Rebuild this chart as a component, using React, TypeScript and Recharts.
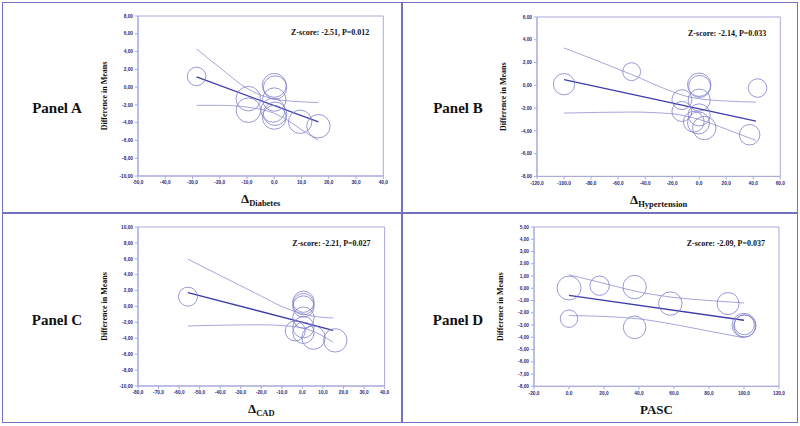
import { ComposedChart, XAxis, YAxis, ZAxis, Scatter, Line, ReferenceArea } from 'recharts';

// ---- Panel A : Delta Diabetes ----
const xTicksA = [-50, -40, -30, -20, -10, 0, 10, 20, 30, 40];
const yTicksA = [8, 6, 4, 2, 0, -2, -4, -6, -8, -10];
const pointsA = [
  { x: -28.5, y: 1.2, w: 44 },
  { x: -9.5, y: -1.3, w: 77 },
  { x: -9.5, y: -2.6, w: 77 },
  { x: 0, y: 0.2, w: 73 },
  { x: 0.3, y: -0.05, w: 70 },
  { x: 0, y: -1.4, w: 70 },
  { x: -0.5, y: -2.6, w: 73 },
  { x: 0.3, y: -3.0, w: 70 },
  { x: 0, y: -3.4, w: 73 },
  { x: 9.5, y: -3.9, w: 70 },
  { x: 16.2, y: -4.4, w: 70 },
];
const fitA = [{ x: -28.5, y: 1.14 }, { x: 16.2, y: -3.92 }];
const upperA = [
  { x: -28.5, y: 4.3 }, { x: -20, y: 2.2 }, { x: -10, y: -0.15 }, { x: -5, y: -0.9 },
  { x: 0, y: -1.35 }, { x: 5, y: -1.55 }, { x: 10, y: -1.65 }, { x: 16.2, y: -1.75 },
];
const lowerA = [
  { x: -28.5, y: -2.05 }, { x: -20, y: -2.05 }, { x: -10, y: -2.25 }, { x: -5, y: -2.5 },
  { x: 0, y: -2.95 }, { x: 5, y: -3.75 }, { x: 10, y: -4.8 }, { x: 16.2, y: -6.0 },
];

// ---- Panel B : Delta Hypertension ----
const xTicksB = [-120, -100, -80, -60, -40, -20, 0, 20, 40, 60];
const yTicksB = [6, 4, 2, 0, -2, -4, -6, -8];
const pointsB = [
  { x: -100, y: 0.1, w: 58 },
  { x: -50, y: 1.2, w: 41 },
  { x: -12.8, y: -1.26, w: 51 },
  { x: -12.8, y: -2.3, w: 51 },
  { x: 0, y: 0.05, w: 70 },
  { x: 0.3, y: -0.1, w: 62 },
  { x: 0, y: -1.3, w: 62 },
  { x: 0, y: -2.6, w: 62 },
  { x: -4, y: -3.2, w: 55 },
  { x: -0.5, y: -3.3, w: 62 },
  { x: 3.8, y: -3.75, w: 70 },
  { x: 37.3, y: -4.34, w: 54 },
  { x: 43.2, y: -0.24, w: 44 },
];
const fitB = [{ x: -100, y: 0.5 }, { x: 42, y: -3.15 }];
const upperB = [
  { x: -100, y: 3.28 }, { x: -50, y: 0.95 }, { x: -20, y: -0.55 }, { x: -10, y: -0.95 },
  { x: 0, y: -1.18 }, { x: 20, y: -1.38 }, { x: 42, y: -1.48 },
];
const lowerB = [
  { x: -100, y: -2.44 }, { x: -50, y: -2.35 }, { x: -20, y: -2.5 }, { x: -10, y: -2.7 },
  { x: 0, y: -3.0 }, { x: 20, y: -3.85 }, { x: 42, y: -4.85 },
];

// ---- Panel C : Delta CAD ----
const xTicksC = [-80, -70, -60, -50, -40, -30, -20, -10, 0, 10, 20, 30, 40];
const yTicksC = [10, 8, 6, 4, 2, 0, -2, -4, -6, -8, -10];
const pointsC = [
  { x: -55.7, y: 1.24, w: 46 },
  { x: 0.5, y: 0.6, w: 58 },
  { x: 0.5, y: 0.3, w: 58 },
  { x: 0.5, y: 0.0, w: 58 },
  { x: 0.5, y: -1.4, w: 58 },
  { x: 0.5, y: -2.6, w: 58 },
  { x: 0.5, y: -3.3, w: 58 },
  { x: -3.5, y: -3.08, w: 51 },
  { x: 5.4, y: -3.92, w: 70 },
  { x: 16, y: -4.26, w: 70 },
];
const fitC = [{ x: -55.7, y: 1.75 }, { x: 15, y: -3.0 }];
const upperC = [
  { x: -55.7, y: 5.95 }, { x: -40, y: 3.9 }, { x: -20, y: 1.3 }, { x: -10, y: 0.0 },
  { x: 0, y: -0.9 }, { x: 5, y: -1.2 }, { x: 15, y: -1.45 },
];
const lowerC = [
  { x: -55.7, y: -2.45 }, { x: -40, y: -2.35 }, { x: -20, y: -2.3 }, { x: -10, y: -2.4 },
  { x: 0, y: -2.7 }, { x: 5, y: -3.1 }, { x: 15, y: -4.5 },
];

// ---- Panel D : PASC ----
const xTicksD = [-20, 0, 20, 40, 60, 80, 100, 120];
const yTicksD = [5, 4, 3, 2, 1, 0, -1, -2, -3, -4, -5, -6, -7, -8];
const pointsD = [
  { x: 0, y: 0.02, w: 73 },
  { x: 17.5, y: 0.21, w: 48 },
  { x: 37.5, y: 0.1, w: 70 },
  { x: 57.9, y: -1.25, w: 70 },
  { x: 90.9, y: -1.25, w: 62 },
  { x: 0, y: -2.48, w: 39 },
  { x: 37.5, y: -3.19, w: 65 },
  { x: 100, y: -3.02, w: 73 },
  { x: 100.4, y: -3.08, w: 62 },
  { x: 100.2, y: -2.98, w: 51 },
];
const fitD = [{ x: 0, y: -0.58 }, { x: 100, y: -2.61 }];
const upperD = [
  { x: 0, y: 1.1 }, { x: 20, y: 0.4 }, { x: 40, y: -0.3 }, { x: 60, y: -0.75 },
  { x: 80, y: -1.0 }, { x: 100, y: -1.2 },
];
const lowerD = [
  { x: 0, y: -2.23 }, { x: 20, y: -2.3 }, { x: 40, y: -2.5 }, { x: 60, y: -2.95 },
  { x: 80, y: -3.5 }, { x: 100, y: -4.04 },
];

const zScores = ['Z-score: -2.51, P=0.012', 'Z-score: -2.14, P=0.033', 'Z-score: -2.21, P=0.027', 'Z-score: -2.09, P=0.037'];
const panelNames = ['Panel A', 'Panel B', 'Panel C', 'Panel D'];

const serif = '"Liberation Serif", "Times New Roman", serif';
const frameColor = '#7171bd';
const axisColor = '#a9a9dc';
const tickColor = '#2b2b7a';
const circleColor = '#7f7fca';
const fitColor = '#3c3cab';
const ciColor = '#8f8fd2';

const fmt2 = (v: number) => v.toFixed(2).replace('.', ',');
const fmt1 = (v: number) => v.toFixed(1).replace('.', ',');

function XLabel({ viewBox, main, sub }: any) {
  const { x, y, width } = viewBox;
  return (
    <text x={x + width / 2} y={y + 27.5} textAnchor="middle" fontFamily={serif} fontWeight="bold" fill="#111">
      <tspan fontSize={13}>{main}</tspan>
      {sub ? <tspan fontSize={8.5} dy={3}>{sub}</tspan> : null}
    </text>
  );
}

function YLabel({ viewBox }: any) {
  const { x, y, width, height } = viewBox;
  const cx = x + width - 32.5;
  const cy = y + height / 2;
  return (
    <text x={cx} y={cy} transform={`rotate(-90 ${cx} ${cy})`} textAnchor="middle" dominantBaseline="middle"
      fontFamily={serif} fontWeight="bold" fontSize={8} fill="#111">
      Difference in Means
    </text>
  );
}

function ZLabel({ viewBox, text }: any) {
  const { x, y, width } = viewBox;
  return (
    <text x={x + width - 14} y={y + 19} textAnchor="end" fontFamily={serif} fontWeight="bold" fontSize={8} fill="#111">
      {text}
    </text>
  );
}

function Panel({ plot, xTicks, yTicks, points, fit, upper, lower, zText, main, sub }: any) {
  const pw = plot.right - plot.left;
  const ph = plot.bottom - plot.top;
  const W = pw + 60;
  const H = ph + 52;
  const xDomain = [xTicks[0], xTicks[xTicks.length - 1]];
  const yDomain = [yTicks[yTicks.length - 1], yTicks[0]];
  const tick = { fontSize: 4.8, fill: tickColor, fontWeight: 'bold', fontFamily: 'Arial, sans-serif' };
  return (
    <div style={{ position: 'absolute', left: plot.left - 40, top: plot.top - 16, width: W, height: H }}>
      <ComposedChart width={W} height={H} margin={{ top: 16, right: 20, bottom: 0, left: 0 }}>
        <XAxis type="number" dataKey="x" domain={xDomain} ticks={xTicks} interval={0} tickFormatter={fmt1}
          height={36} tick={tick} tickSize={3} axisLine={{ stroke: axisColor }} tickLine={{ stroke: axisColor }}
          allowDataOverflow label={<XLabel main={main} sub={sub} />} />
        <YAxis type="number" dataKey="y" domain={yDomain} ticks={yTicks} interval={0} tickFormatter={fmt2}
          width={40} tick={tick} tickSize={3} axisLine={{ stroke: axisColor }} tickLine={{ stroke: axisColor }}
          allowDataOverflow label={<YLabel />} />
        <ZAxis type="number" dataKey="w" domain={[0, 100]} range={[0, 615]} />
        <ReferenceArea x1={xDomain[0]} x2={xDomain[1]} y1={yDomain[0]} y2={yDomain[1]} fill="none" fillOpacity={0}
          stroke={axisColor} strokeWidth={1} label={<ZLabel text={zText} />} />
        <Scatter data={points} dataKey="y" shape="circle" fill="none" stroke={circleColor} strokeWidth={0.8}
          isAnimationActive={false} />
        <Line data={upper} dataKey="y" type="monotone" stroke={ciColor} strokeWidth={0.8} dot={false}
          activeDot={false} isAnimationActive={false} />
        <Line data={lower} dataKey="y" type="monotone" stroke={ciColor} strokeWidth={0.8} dot={false}
          activeDot={false} isAnimationActive={false} />
        <Line data={fit} dataKey="y" type="linear" stroke={fitColor} strokeWidth={1.3} dot={false}
          activeDot={false} isAnimationActive={false} />
      </ComposedChart>
    </div>
  );
}

export default function App() {
  const labelStyle = (left: number, top: number): any => ({
    position: 'absolute', left, top, width: 120, textAlign: 'center', fontFamily: serif,
    fontWeight: 'bold', fontSize: 15, color: '#111', lineHeight: '16px',
  });
  return (
    <div style={{ position: 'absolute', left: 0, top: 0, width: 800, height: 426, background: '#fff', overflow: 'hidden' }}>
      <div style={{ position: 'absolute', left: 2, top: 2, width: 794, height: 419, border: `1.5px solid ${frameColor}` }} />
      <div style={{ position: 'absolute', left: 401, top: 2, width: 1.5, height: 421, background: frameColor }} />
      <div style={{ position: 'absolute', left: 2, top: 212, width: 796, height: 1.5, background: frameColor }} />

      <div style={labelStyle(-3, 100)}>{panelNames[0]}</div>
      <div style={labelStyle(398, 100)}>{panelNames[1]}</div>
      <div style={labelStyle(-3, 312)}>{panelNames[2]}</div>
      <div style={labelStyle(398, 312)}>{panelNames[3]}</div>

      <Panel plot={{ left: 137.7, right: 383, top: 15.7, bottom: 175.7 }} xTicks={xTicksA} yTicks={yTicksA}
        points={pointsA} fit={fitA} upper={upperA} lower={lowerA} zText={zScores[0]} main="Δ" sub="Diabetes" />
      <Panel plot={{ left: 536.7, right: 780, top: 17.3, bottom: 176.7 }} xTicks={xTicksB} yTicks={yTicksB}
        points={pointsB} fit={fitB} upper={upperB} lower={lowerB} zText={zScores[1]} main="Δ" sub="Hypertension" />
      <Panel plot={{ left: 137.7, right: 384.3, top: 227.3, bottom: 386.3 }} xTicks={xTicksC} yTicks={yTicksC}
        points={pointsC} fit={fitC} upper={upperC} lower={lowerC} zText={zScores[2]} main="Δ" sub="CAD" />
      <Panel plot={{ left: 534.3, right: 779.3, top: 227, bottom: 386.3 }} xTicks={xTicksD} yTicks={yTicksD}
        points={pointsD} fit={fitD} upper={upperD} lower={lowerD} zText={zScores[3]} main="PASC" sub="" />
    </div>
  );
}
